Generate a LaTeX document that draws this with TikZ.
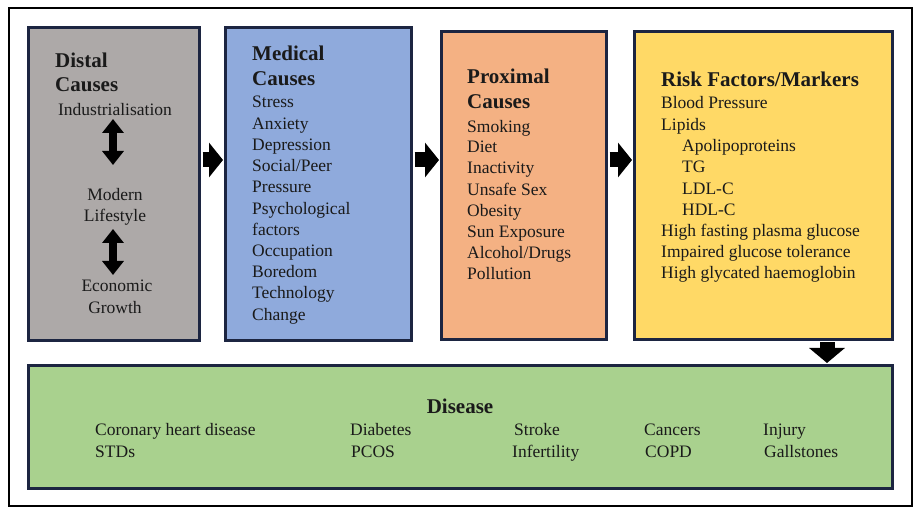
\documentclass[tikz,border=0pt]{standalone}
\usepackage{fontspec}
\setmainfont{Liberation Serif}
\usetikzlibrary{arrows.meta}
\definecolor{grayc}{HTML}{ADA9A8}
\definecolor{bluec}{HTML}{8FAADC}
\definecolor{orangec}{HTML}{F4B183}
\definecolor{yellowc}{HTML}{FFD966}
\definecolor{greenc}{HTML}{A9D18E}
\definecolor{bordc}{HTML}{1C2541}
\definecolor{txt}{HTML}{1A1A1A}
\begin{document}
\begin{tikzpicture}[x=1pt,y=-1pt,
  box/.style={draw=bordc, line width=3pt, rectangle, inner sep=0pt},
  body/.style={font=\fontsize{17.5}{20}\selectfont, text=txt, inner sep=0pt, anchor=base west},
  bodyc/.style={body, anchor=base},
  head/.style={font=\fontsize{21}{24}\selectfont\bfseries, text=txt, inner sep=0pt, anchor=base west},
  bigarrow/.style={line width=15pt, -{Triangle[length=14pt,width=34pt]}, draw=black},
  downarrow/.style={line width=15pt, -{Triangle[length=15pt,width=35pt]}, draw=black},
  dblarrow/.style={line width=8pt, {Triangle[length=14pt,width=21pt]}-{Triangle[length=14pt,width=21pt]}, draw=black}]
\useasboundingbox (0,0) rectangle (916,510);
\node[draw=black, line width=2pt, minimum width=903pt, minimum height=498pt, inner sep=0pt] (frame) at (460.5,257) {};
% boxes
\node[box, fill=grayc, minimum width=171pt, minimum height=313pt] (gray) at (114,184) {};
\node[box, fill=bluec, minimum width=186pt, minimum height=313pt] (blue) at (318.5,184) {};
\node[box, fill=orangec, minimum width=165pt, minimum height=308pt] (orange) at (524,185.5) {};
\node[box, fill=yellowc, minimum width=258pt, minimum height=308pt] (yellow) at (763.5,185.5) {};
\node[box, fill=greenc, minimum width=864pt, minimum height=123pt] (green) at (460.5,427) {};
% arrows between boxes
\coordinate (ar) at (0,160);
\coordinate (dx) at (827,0);
\draw[bigarrow] ([xshift=1.5pt]gray.east |- ar) -- ([xshift=-1pt]blue.west |- ar);
\draw[bigarrow] ([xshift=1.5pt]blue.east |- ar) -- ([xshift=-1pt]orange.west |- ar);
\draw[bigarrow] ([xshift=1.5pt]orange.east |- ar) -- ([xshift=-1pt]yellow.west |- ar);
\draw[downarrow] ([yshift=-1.5pt]yellow.south -| dx) -- ([yshift=1pt]green.north -| dx);
% distal
\node[head] (dh1) at (55,68) {Distal};
\node[head] (dh2) at (55,92) {Causes};
\node[bodyc] (d1) at (115,116) {Industrialisation};
\node[bodyc] (d2) at (115,201) {Modern};
\node[bodyc] (d3) at (115,222) {Lifestyle};
\node[bodyc] (d4) at (117,292) {Economic};
\node[bodyc] (d5) at (115,314) {Growth};
\coordinate (da1) at (113,119);
\coordinate (db1) at (113,165);
\coordinate (da2) at (113,229);
\coordinate (db2) at (113,275);
\draw[dblarrow] (da1) -- (db1);
\draw[dblarrow] (da2) -- (db2);
% medical
\node[head] (mh1) at (252,61) {Medical};
\node[head] (mh2) at (252,86) {Causes};
\foreach \t/\y in {Stress/102, Anxiety/124, Depression/145, {Social/Peer}/166, Pressure/187, Psychological/209, factors/230, Occupation/251, Boredom/272, Technology/293, Change/315}
  \node[body] (m\y) at (252,{\y+5.5}) {\t};
% proximal
\node[head] (ph1) at (467,84) {Proximal};
\node[head] (ph2) at (467,109) {Causes};
\foreach \t/\y in {Smoking/127, Diet/147, Inactivity/168, Unsafe Sex/190, Obesity/211, Sun Exposure/232, {Alcohol/Drugs}/253, Pollution/274}
  \node[body] (p\y) at (467,{\y+5.5}) {\t};
% risk
\node[head] (rh) at (661,87) {Risk Factors/Markers};
\foreach \t/\x/\y in {Blood Pressure/661/103, Lipids/661/125, Apolipoproteins/682/146, TG/682/167, LDL-C/682/189, HDL-C/682/210, High fasting plasma glucose/661/231, Impaired glucose tolerance/661/252, High glycated haemoglobin/661/273}
  \node[body] (r\y) at (\x,{\y+5.5}) {\t};
% disease
\node[head, anchor=base] (gh) at (460,414) {Disease};
\foreach \t/\x/\y/\n in {Coronary heart disease/95/436/a, STDs/95/457/b, Diabetes/350/436/c, PCOS/351/457/d, Stroke/514/436/e, Infertility/512/457/f, Cancers/644/436/g, COPD/645/457/h, Injury/763/436/i, Gallstones/764/457/j}
  \node[body] (g\n) at (\x,\y) {\t};
\end{tikzpicture}
\end{document}
